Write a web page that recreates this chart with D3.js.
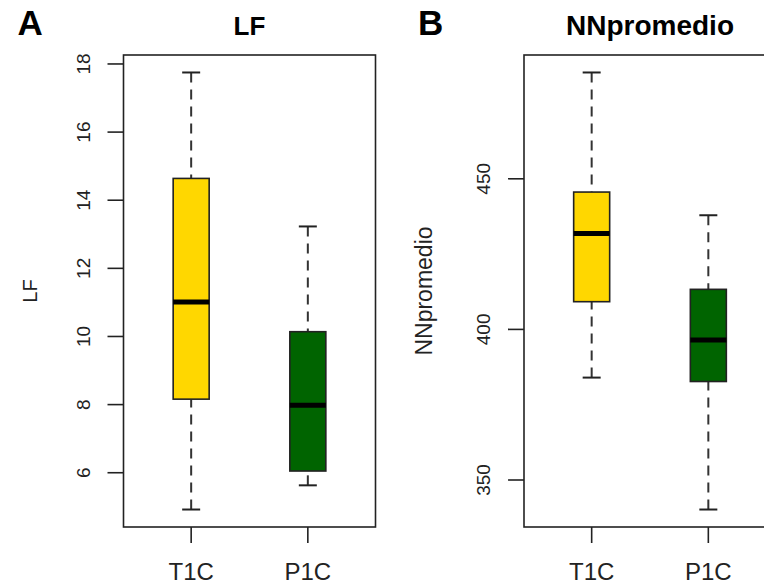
<!DOCTYPE html>
<html>
<head>
<meta charset="utf-8">
<script src="https://cdn.jsdelivr.net/npm/d3@7.9.0/dist/d3.min.js"></script>
<style>
  body { margin: 0; background: #fff; }
  svg { display: block; font-family: Arial, "Liberation Sans", sans-serif; }
</style>
</head>
<body>
<svg id="chart" width="764" height="585"></svg>
<script>
// groups and five-number summaries (min, q1, median, q3, max)
const groups = ["T1C", "P1C"];
const fills = ["#FFD700", "#006400"];
const lfStats = [
  [4.92, 8.16, 11.01, 14.64, 17.75],
  [5.63, 6.05, 7.98, 10.14, 13.23]
];
const nnStats = [
  [384.0, 409.2, 431.8, 445.6, 485.3],
  [340.2, 382.7, 396.5, 413.3, 437.9]
];
const lfTicks = [6, 8, 10, 12, 14, 16, 18];
const nnTicks = [350, 400, 450];

const svg = d3.select("#chart");
const ink = "#222";

function drawPanel(opts) {
  const { left, stats, ticks, title, ylab, letter, ylabSize, ylabOff, titleSize } = opts;
  const top = 55, bottom = 527, width = 252;
  const g = svg.append("g");

  // R style range: data range padded by 4%
  const lo = d3.min(stats, d => d[0]), hi = d3.max(stats, d => d[4]);
  const pad = (hi - lo) * 0.04;
  const y = d3.scaleLinear().domain([lo - pad, hi + pad]).range([bottom, top]);
  const x = d3.scaleLinear().domain([0.42, 2.58]).range([left, left + width]);

  const boxW = 36, capW = 18;

  stats.forEach((s, i) => {
    const cx = x(i + 1);
    // whiskers
    g.append("line").attr("x1", cx).attr("x2", cx)
      .attr("y1", y(s[0])).attr("y2", y(s[1]))
      .attr("stroke", "#333").attr("stroke-width", 2).attr("stroke-dasharray", "10,7");
    g.append("line").attr("x1", cx).attr("x2", cx)
      .attr("y1", y(s[4])).attr("y2", y(s[3]))
      .attr("stroke", "#333").attr("stroke-width", 2).attr("stroke-dasharray", "10,7");
    [s[0], s[4]].forEach(v => {
      g.append("line").attr("x1", cx - capW / 2).attr("x2", cx + capW / 2)
        .attr("y1", y(v)).attr("y2", y(v))
        .attr("stroke", ink).attr("stroke-width", 2);
    });
    // box
    g.append("rect")
      .attr("x", cx - boxW / 2).attr("width", boxW)
      .attr("y", y(s[3])).attr("height", y(s[1]) - y(s[3]))
      .attr("fill", fills[i]).attr("stroke", ink).attr("stroke-width", 1.6);
    // median
    g.append("line").attr("x1", cx - boxW / 2).attr("x2", cx + boxW / 2)
      .attr("y1", y(s[2])).attr("y2", y(s[2]))
      .attr("stroke", "#000").attr("stroke-width", 5);
  });

  // frame
  g.append("rect").attr("x", left).attr("y", top)
    .attr("width", width).attr("height", bottom - top)
    .attr("fill", "none").attr("stroke", ink).attr("stroke-width", 1.6);

  // y axis
  ticks.forEach(t => {
    g.append("line").attr("x1", left - 16).attr("x2", left)
      .attr("y1", y(t)).attr("y2", y(t))
      .attr("stroke", ink).attr("stroke-width", 1.6);
    g.append("text")
      .attr("transform", `translate(${left - 34},${y(t)}) rotate(-90)`)
      .attr("text-anchor", "middle").attr("font-size", 19).attr("fill", "#222")
      .text(t);
  });

  // x axis
  groups.forEach((name, i) => {
    const cx = x(i + 1);
    g.append("line").attr("x1", cx).attr("x2", cx)
      .attr("y1", bottom).attr("y2", bottom + 16)
      .attr("stroke", ink).attr("stroke-width", 1.6);
    g.append("text").attr("x", cx).attr("y", 580)
      .attr("text-anchor", "middle").attr("font-size", 24).attr("fill", "#222")
      .text(name);
  });

  // labels
  g.append("text")
    .attr("transform", `translate(${left - ylabOff},${(top + bottom) / 2}) rotate(-90)`)
    .attr("text-anchor", "middle").attr("font-size", ylabSize).attr("fill", "#222")
    .text(ylab);
  g.append("text").attr("x", left + width / 2).attr("y", 35)
    .attr("text-anchor", "middle").attr("font-size", titleSize).attr("font-weight", "bold")
    .text(title);
  g.append("text").attr("x", left - 106).attr("y", 35)
    .attr("font-size", 35).attr("font-weight", "bold")
    .text(letter);
}

drawPanel({ left: 123.5, stats: lfStats, ticks: lfTicks, title: "LF", ylab: "LF", letter: "A",
  ylabSize: 20, ylabOff: 87, titleSize: 26 });
drawPanel({ left: 524, stats: nnStats, ticks: nnTicks, title: "NNpromedio", ylab: "NNpromedio", letter: "B",
  ylabSize: 23, ylabOff: 92, titleSize: 28 });
</script>
</body>
</html>
